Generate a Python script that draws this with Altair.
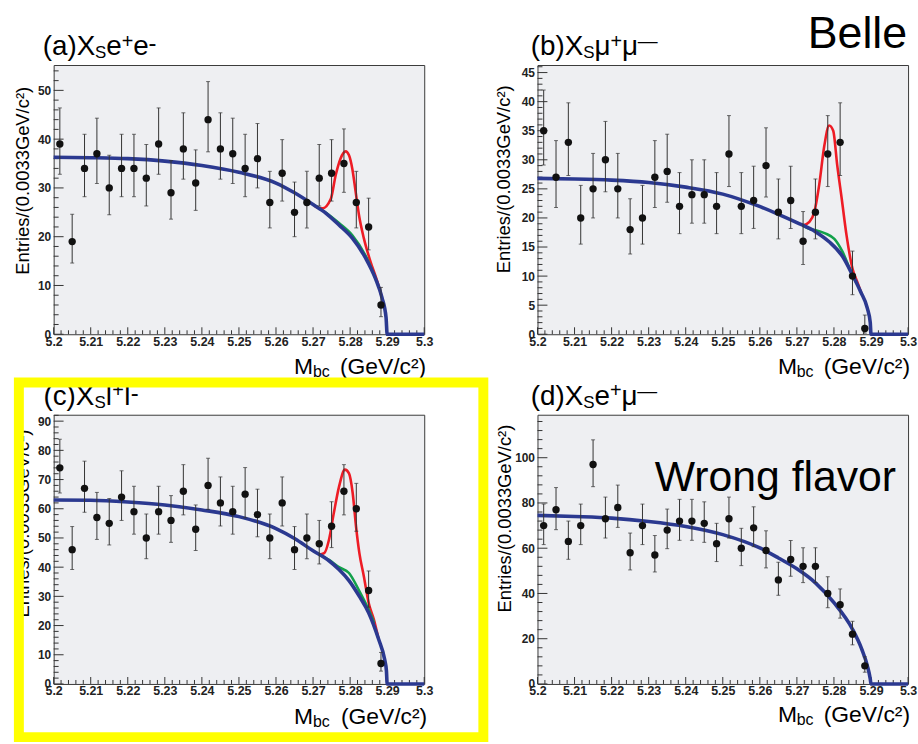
import altair as alt
import pandas as pd

# ---------------- data ----------------
bins = [5.20167, 5.205, 5.20833, 5.21167, 5.215, 5.21833, 5.22167, 5.225, 5.22833,
        5.23167, 5.235, 5.23833, 5.24167, 5.245, 5.24833, 5.25167, 5.255, 5.25833,
        5.26167, 5.265, 5.26833, 5.27167, 5.275, 5.27833, 5.28167, 5.285, 5.28833]

n_a = [39, 19, 34, 37, 30, 34, 34, 32, 39, 29, 38, 31, 44, 38, 37, 34, 36, 27, 33, 25, 27, 32, 33, 35, 27, 22, 6]
elo_a = [6.2, 4.4, 5.8, 6.1, 5.5, 5.8, 5.8, 5.7, 6.2, 5.4, 6.2, 5.6, 6.6, 6.2, 6.1, 5.8, 6.0, 5.2, 5.7, 5.0, 5.2, 5.7, 5.7, 5.9, 5.2, 4.7, 2.4]
ehi_a = [7.4, 5.6, 7.0, 7.3, 6.7, 7.0, 7.0, 6.9, 7.4, 6.6, 7.4, 6.8, 7.8, 7.4, 7.3, 7.0, 7.2, 6.4, 6.9, 6.2, 6.4, 6.9, 6.9, 7.1, 6.4, 5.9, 3.6]

n_b = [35, 27, 33, 20, 25, 30, 25, 18, 20, 27, 28, 22, 24, 24, 22, 31, 22, 23, 29, 21, 23, 16, 21, 31, 33, 10, 1]
elo_b = [5.9, 5.2, 5.7, 4.5, 5.0, 5.5, 5.0, 4.2, 4.5, 5.2, 5.3, 4.7, 4.9, 4.9, 4.7, 5.6, 4.7, 4.8, 5.4, 4.6, 4.8, 4.0, 4.6, 5.6, 5.7, 3.2, 0.8]
ehi_b = [7.0, 6.3, 6.8, 5.6, 6.1, 6.6, 6.1, 5.3, 5.6, 6.3, 6.4, 5.8, 6.0, 6.0, 5.8, 6.6, 5.8, 5.9, 6.5, 5.7, 5.9, 5.1, 5.7, 6.6, 6.8, 4.3, 2.3]

n_c = [74, 46, 67, 57, 55, 64, 59, 50, 59, 56, 66, 53, 68, 62, 59, 65, 58, 50, 62, 46, 50, 48, 54, 66, 60, 32, 7]
elo_c = [8.6, 6.8, 8.2, 7.5, 7.4, 8.0, 7.7, 7.1, 7.7, 7.5, 8.1, 7.3, 8.2, 7.9, 7.7, 8.1, 7.6, 7.1, 7.9, 6.8, 7.1, 6.9, 7.3, 8.1, 7.7, 5.7, 2.6]
ehi_c = [9.8, 7.9, 9.3, 8.6, 8.5, 9.0, 8.7, 8.2, 8.7, 8.5, 9.1, 8.3, 9.3, 8.9, 8.7, 9.1, 8.7, 8.2, 8.9, 7.9, 8.2, 8.0, 8.4, 9.1, 8.7, 6.7, 3.8]

n_d = [70, 77, 63, 70, 97, 73, 78, 58, 70, 57, 68, 72, 72, 71, 62, 73, 60, 69, 59, 46, 55, 52, 52, 40, 35, 22, 8]
elo_d = [8.4, 8.8, 7.9, 8.4, 9.8, 8.5, 8.8, 7.6, 8.4, 7.5, 8.2, 8.5, 8.5, 8.4, 7.9, 8.5, 7.7, 8.3, 7.7, 6.8, 7.4, 7.2, 7.2, 6.3, 5.9, 4.7, 2.8]
ehi_d = [9.5, 9.8, 9.0, 9.5, 10.9, 9.6, 9.9, 8.7, 9.5, 8.6, 9.3, 9.6, 9.6, 9.5, 9.0, 9.6, 8.8, 9.3, 8.7, 7.8, 8.4, 8.2, 8.2, 7.4, 7.0, 5.7, 4.0]

# fitted curves
blue_a_x = [5.2, 5.21, 5.22, 5.23, 5.24, 5.25, 5.26, 5.265, 5.27, 5.2735, 5.277, 5.2806, 5.2842, 5.2868, 5.2886, 5.2897, 5.29, 5.3]
blue_a_y = [36.3, 36.2, 36.0, 35.5, 34.6, 33.2, 31.0, 29.0, 26.6, 24.8, 22.4, 19.7, 15.6, 11.5, 7.5, 3.4, 0, 0]
red_a_x = [5.2705, 5.2725, 5.2748, 5.2761, 5.2774, 5.2788, 5.2797, 5.2806, 5.2815, 5.2824, 5.2837, 5.2855, 5.2873, 5.2886]
red_a_y = [26.2, 25.8, 27.8, 32.6, 36.0, 37.5, 36.7, 33.9, 29.2, 24.4, 19.7, 14.9, 10.9, 7.5]
green_a_x = [5.27, 5.2735, 5.277, 5.2806, 5.2842, 5.2868]
green_a_y = [26.6, 24.9, 22.8, 20.3, 16.1, 11.6]

blue_b_x = [5.2, 5.21, 5.22, 5.23, 5.24, 5.25, 5.259, 5.2644, 5.27, 5.2751, 5.2787, 5.2823, 5.285, 5.2872, 5.289, 5.2898, 5.29, 5.3]
blue_b_y = [26.8, 26.7, 26.5, 26.1, 25.3, 24.1, 22.2, 20.8, 19.2, 17.6, 15.9, 13.4, 10.2, 7.3, 4.5, 2.0, 0, 0]
red_b_x = [5.2716, 5.2733, 5.2747, 5.276, 5.2774, 5.2787, 5.2798, 5.2809, 5.2821, 5.2834, 5.285, 5.2863, 5.2875]
red_b_y = [18.7, 19.3, 21.0, 25.6, 32.4, 35.9, 35.0, 29.0, 23.3, 17.0, 11.3, 9.0, 6.9]
green_b_x = [5.2716, 5.2735, 5.2751, 5.2778, 5.2801, 5.2823, 5.2845, 5.286]
green_b_y = [18.7, 18.1, 17.9, 17.3, 16.4, 14.2, 10.9, 8.9]

blue_c_x = [5.2, 5.21, 5.22, 5.23, 5.24, 5.25, 5.26, 5.265, 5.27, 5.2743, 5.277, 5.2797, 5.2825, 5.285, 5.2877, 5.2893, 5.2898, 5.29, 5.3]
blue_c_y = [63.0, 62.9, 62.3, 61.3, 59.6, 57.3, 53.2, 49.8, 45.6, 42.2, 39.2, 35.4, 30.0, 24.4, 15.3, 8.5, 4.5, 0, 0]
red_c_x = [5.2716, 5.273, 5.2743, 5.2756, 5.277, 5.2786, 5.2797, 5.2807, 5.2816, 5.2825, 5.2837, 5.285, 5.2864, 5.2877]
red_c_y = [44.3, 44.8, 49.4, 58.5, 67.5, 73.4, 72.1, 65.3, 53.9, 44.8, 36.9, 27.8, 22.1, 15.3]
green_c_x = [5.2716, 5.2743, 5.277, 5.2797, 5.2825, 5.285, 5.2865]
green_c_y = [44.3, 42.5, 40.0, 38.0, 31.8, 25.5, 21.0]

blue_d_x = [5.2, 5.21, 5.22, 5.23, 5.24, 5.25, 5.26, 5.265, 5.27, 5.275, 5.28, 5.285, 5.2875, 5.289, 5.2898, 5.29, 5.3]
blue_d_y = [74.5, 74.0, 73.3, 71.8, 69.6, 66.0, 60.1, 55.7, 50.9, 44.7, 35.9, 24.2, 15.4, 8.1, 2.2, 0, 0]

x_major = [5.2, 5.21, 5.22, 5.23, 5.24, 5.25, 5.26, 5.27, 5.28, 5.29, 5.3]

# ---------------- styling ----------------
W, H = 373, 271
FONT = "Liberation Sans, Arial, Helvetica, sans-serif"
NARROW = "Liberation Sans Narrow, Arial Narrow, Liberation Sans, sans-serif"
RED, GREEN, BLUE = "#EE1C25", "#12A14A", "#2B3990"
ONE = pd.DataFrame({"k": [0]})

x_minor = [round(5.2 + 0.002 * i, 4) for i in range(51) if i % 5 != 0]

XS = alt.Scale(domain=[5.2, 5.3], nice=False, zero=False)
XAX = alt.Axis(values=x_major, format=".2~f", ticks=False, domain=False, grid=False, title=None,
               labelFont=NARROW, labelFontWeight="bold", labelFontSize=12.5, labelColor="#222",
               labelPadding=1, labelFlush=False, labelOverlap=False)


def txt(text, x, y, size, align="left", angle=0, color="black"):
    kw = dict(text=text, fontSize=size, align=align, baseline="alphabetic", font=FONT, color=color)
    if angle:
        kw["angle"] = angle
    return alt.Chart(ONE).mark_text(**kw).encode(x=alt.value(x), y=alt.value(y))


def panel(counts, elo, ehi, curves, ymax, ymaj, ymin, texts, anchor=False, frame=False):
    YS = alt.Scale(domain=[0, ymax], nice=False, zero=True)
    YAX = alt.Axis(values=ymaj, format="d", ticks=False, domain=False, grid=False, title=None,
                   labelFont=FONT, labelFontWeight="bold", labelFontSize=12, labelColor="#222",
                   labelPadding=3, labelFlush=False, labelOverlap=False)

    def X(f):
        return alt.X(f"{f}:Q", scale=XS, axis=XAX)

    def Y(f):
        return alt.Y(f"{f}:Q", scale=YS, axis=YAX)

    layers = []
    if anchor:
        layers.append(alt.Chart(ONE).mark_rect(color="white").encode(
            x=alt.value(-53), x2=alt.value(-52), y=alt.value(-62), y2=alt.value(-61)))
    # inward ticks
    for vals, L in ((x_major, 7), (x_minor, 4)):
        layers.append(alt.Chart(pd.DataFrame({"x": vals})).mark_rule(color="#333", strokeWidth=1).encode(
            x=X("x"), y=alt.value(H), y2=alt.value(H - L)))
    for vals, L in ((ymaj, 10), (ymin, 5)):
        layers.append(alt.Chart(pd.DataFrame({"y": vals})).mark_rule(color="#333", strokeWidth=1).encode(
            y=Y("y"), x=alt.value(0), x2=alt.value(L)))
    # fit curves
    for cx, cy, col, sw in curves:
        layers.append(alt.Chart(pd.DataFrame({"x": cx, "y": cy})).mark_line(
            color=col, strokeWidth=sw, interpolate="monotone").encode(x=X("x"), y=Y("y")))
    # data points with error bars
    pts = pd.DataFrame({"x": bins, "y": counts,
                        "lo": [c - e for c, e in zip(counts, elo)],
                        "hi": [c + e for c, e in zip(counts, ehi)]})
    base = alt.Chart(pts)
    layers.append(base.mark_rule(color="#333", strokeWidth=1).encode(x=X("x"), y=Y("lo"), y2="hi"))
    layers.append(base.mark_tick(orient="horizontal", size=4, thickness=1, color="#333").encode(x=X("x"), y=Y("lo")))
    layers.append(base.mark_tick(orient="horizontal", size=4, thickness=1, color="#333").encode(x=X("x"), y=Y("hi")))
    layers.append(base.mark_circle(size=55, color="#111", opacity=1).encode(x=X("x"), y=Y("y")))
    layers.extend(texts)
    if frame:
        layers.append(alt.Chart(ONE).mark_rect(fillOpacity=0, stroke="#FFFF00", strokeWidth=10).encode(
            x=alt.value(-35), x2=alt.value(432.5), y=alt.value(-32.5), y2=alt.value(324.5)))
    return alt.layer(*layers).properties(width=W, height=H)


def xtitle(right, base):
    return [txt("M", 242, base, 23), txt("bc", 261, base + 3, 16),
            txt("(GeV/c²)", right, base, 23, align="right")]


def ytitle(x, yc):
    return [txt("Entries/(0.0033GeV/c²)", x, yc, 18.5, align="center", angle=270)]


TS = 28  # title font size

texts_a = [txt("(a)X", -11, -10, TS), txt("S", 41.5, -7, 17), txt("e", 53, -10, TS),
           txt("+", 68.5, -17.5, 20), txt("e", 80, -10, TS), txt("-", 95.5, -14, 24)] \
    + xtitle(375, 311) + ytitle(-25, 116.5)
texts_b = [txt("(b)X", -6.7, -10, TS), txt("S", 46, -7, 17), txt("μ", 57.5, -10, TS),
           txt("+", 73.5, -17.5, 20), txt("μ", 85, -10, TS), txt("—", 101, -17, 20)] \
    + xtitle(375, 311) + ytitle(-28, 115) + [txt("Belle", 272, -17, 45)]
texts_c = [txt("(c)X", -10.3, -9.7, TS), txt("S", 41, -7, 17), txt("l", 52.5, -9.7, TS),
           txt("+", 59, -17.5, 20), txt("l", 71, -9.7, TS), txt("-", 77.5, -14, 24)] \
    + xtitle(376, 311) + ytitle(-25, 109.5)
texts_d = [txt("(d)X", -6.7, -9.7, TS), txt("S", 46, -7, 17), txt("e", 57.5, -9.7, TS),
           txt("+", 73, -17.5, 20), txt("μ", 84.5, -9.7, TS), txt("—", 100.5, -17, 20)] \
    + xtitle(375, 309) + ytitle(-27, 104.5) + [txt("Wrong flavor", 118, 76.7, 43)]

pa = panel(n_a, elo_a, ehi_a,
           [(red_a_x, red_a_y, RED, 2.6), (green_a_x, green_a_y, GREEN, 2.6), (blue_a_x, blue_a_y, BLUE, 3.6)],
           55.2, [0, 10, 20, 30, 40, 50], [v for v in range(0, 55, 2) if v % 10], texts_a, anchor=True)
pb = panel(n_b, elo_b, ehi_b,
           [(red_b_x, red_b_y, RED, 2.6), (green_b_x, green_b_y, GREEN, 2.6), (blue_b_x, blue_b_y, BLUE, 3.6)],
           46.3, [0, 5, 10, 15, 20, 25, 30, 35, 40, 45], [v for v in range(0, 47) if v % 5], texts_b)
pc = panel(n_c, elo_c, ehi_c,
           [(red_c_x, red_c_y, RED, 2.6), (green_c_x, green_c_y, GREEN, 2.6), (blue_c_x, blue_c_y, BLUE, 3.6)],
           92.2, [0, 10, 20, 30, 40, 50, 60, 70, 80, 90], [v for v in range(0, 93, 2) if v % 10], texts_c,
           frame=True)
pd_ = panel(n_d, elo_d, ehi_d,
            [(blue_d_x, blue_d_y, BLUE, 3.6)],
            119, [0, 20, 40, 60, 80, 100], [v for v in range(0, 118, 4) if v % 20], texts_d)

chart = alt.concat(pa, pb, pc, pd_, columns=2,
                   spacing=alt.RowColnumber(row=81, column=114), bounds="flush") \
    .resolve_scale(x="independent", y="independent") \
    .properties(padding=0) \
    .configure_view(fill="#EEEFF2", stroke="#3a3a3a", strokeWidth=1)

chart.save("out.html", embed_options={"renderer": "svg", "actions": False})
